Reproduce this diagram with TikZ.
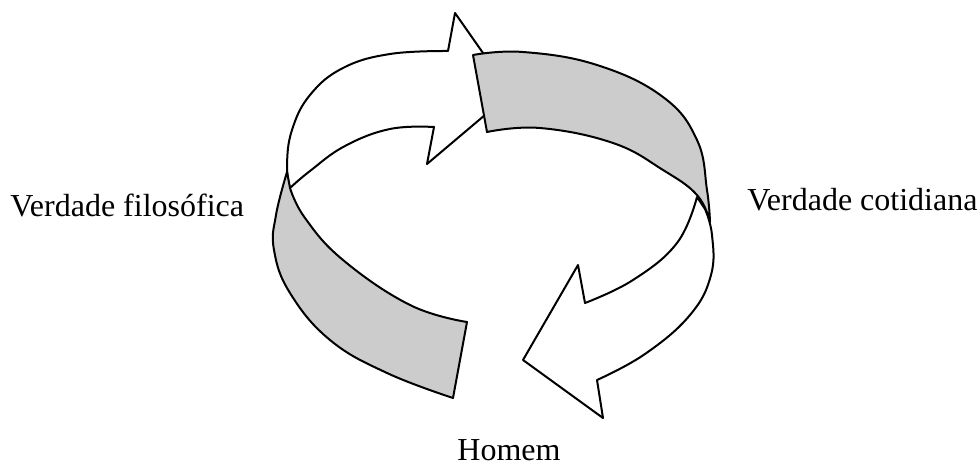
\documentclass[tikz,border=0pt]{standalone}
\usepackage{fontspec}
\setmainfont{Liberation Serif}
\usepackage{tikz}

\begin{document}
\begin{tikzpicture}[x=0.5pt,y=-0.5pt,line join=round,
  arr/.style={draw,fill=white,line width=1pt},
  band/.style={draw,fill=gray!40,line width=1pt},
  lbl/.style={inner sep=0pt,anchor=base west,font=\fontsize{16}{19}\selectfont}]
\useasboundingbox (0,0) rectangle (980,465);
% upper left arrow, its tip runs under the grey band
\draw[arr] plot[smooth,tension=0.7] coordinates {(290,188) (287,165) (292,130) (310,95) (343,68) (390,54) (448,51)}
 -- (455,13) -- (511,93) -- (427,164) -- (434,127)
 -- plot[smooth,tension=0.7] coordinates {(434,127) (390,129) (345,146) (310,171) (290,188)} -- cycle;
% upper right band
\draw[band] (473,55) -- plot[smooth,tension=0.7] coordinates {(473,55) (523,52) (597,65) (663,97) (697,140) (707,190) (710,222)}
 -- plot[smooth,tension=0.7] coordinates {(710,222) (697,195) (663,170) (613,143) (540,128) (487,132)} -- cycle;
% left band
\draw[band] plot[smooth,tension=0.7] coordinates {(287,172) (276,215) (274,250) (290,293) (330,340) (387,373) (453,398)}
 -- (467,322)
 -- plot[smooth,tension=0.7] coordinates {(467,322) (410,305) (343,260) (305,218) (290,188)} -- cycle;
% lower right arrow
\draw[arr] (697,197) -- (705,209) -- plot[smooth,tension=0.7] coordinates {(705,209) (712,235) (711,275) (690,315) (645,354) (597,380)}
 -- (603,418) -- (523,360) -- (578,265) -- (585,303)
 -- plot[smooth,tension=0.7] coordinates {(585,303) (633,280) (677,243) (697,197)} -- cycle;
\node[lbl] (filo) at (10,216) {Verdade filosófica};
\node[lbl] (coti) at (747,210) {Verdade cotidiana};
\node[lbl] (homem) at (457,460) {Homem};
\end{tikzpicture}
\end{document}
